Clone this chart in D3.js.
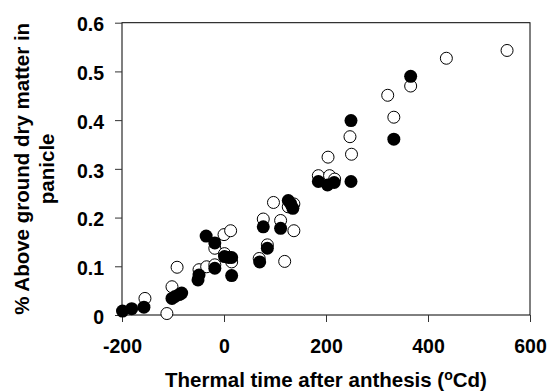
<!DOCTYPE html>
<html>
<head>
<meta charset="utf-8">
<script src="https://cdn.jsdelivr.net/npm/d3@7"></script>
<style>
  body { margin: 0; background: #fff; }
  text { font-family: "Liberation Sans", Arial, sans-serif; font-weight: bold; fill: #000; }
</style>
</head>
<body>
<div id="chart"></div>
<script>
// thermal time (°Cd) vs % above ground dry matter in panicle
const closedPts = [
  [-199, 0.008], [-181, 0.013], [-157, 0.016], [-102, 0.034], [-96, 0.038], [-88, 0.042],
  [-83, 0.045], [-51, 0.072], [-49, 0.082], [-35, 0.162], [-18, 0.148], [-18, 0.096],
  [1, 0.12], [9, 0.118], [15, 0.118], [15, 0.081], [70, 0.109], [77, 0.181], [85, 0.137],
  [111, 0.178], [126, 0.235], [131, 0.228], [135, 0.219], [185, 0.274], [203, 0.267],
  [216, 0.272], [249, 0.399], [249, 0.274], [333, 0.361], [366, 0.49]
]
const openPts = [
  [-155, 0.034], [-112, 0.003], [-92, 0.098], [-102, 0.058], [-49, 0.093], [-34, 0.099],
  [-18, 0.137], [-18, 0.103], [0, 0.165], [13, 0.173], [1, 0.126], [15, 0.109], [69, 0.116],
  [77, 0.197], [85, 0.144], [97, 0.231], [111, 0.194], [119, 0.11], [126, 0.222], [137, 0.228],
  [137, 0.173], [185, 0.286], [204, 0.324], [207, 0.286], [217, 0.279], [247, 0.366],
  [250, 0.33], [321, 0.451], [333, 0.406], [366, 0.47], [436, 0.527], [555, 0.543]
]
const xTicks = [-200, 0, 200, 400, 600]
const yTicks = [0, 0.1, 0.2, 0.3, 0.4, 0.5, 0.6]

let width = 549, height = 392
const margin = {top: 22.7, right: 19, bottom: 77, left: 122}

let x = d3.scaleLinear().domain([-200, 600]).range([margin.left, width - margin.right])
let y = d3.scaleLinear().domain([0, 0.6]).range([height - margin.bottom, margin.top])

let svg = d3.select("#chart").append("svg")
    .attr("width", width).attr("height", height)

// frame
svg.append("rect")
    .attr("x", x(-200)).attr("y", y(0.6))
    .attr("width", x(600) - x(-200)).attr("height", y(0) - y(0.6))
    .attr("fill", "none").attr("stroke", "#000").attr("stroke-width", 1)

let xAxis = svg.append("g").attr("transform", `translate(0,${y(0)})`)
    .call(d3.axisBottom(x).tickValues(xTicks).tickSize(7).tickPadding(17).tickFormat(d => String(d)))
let yAxis = svg.append("g").attr("transform", `translate(${x(-200)},0)`)
    .call(d3.axisLeft(y).tickValues(yTicks).tickSize(7).tickPadding(11).tickFormat(d => d === 0 ? "0" : d3.format(".1f")(d)))

xAxis.select(".domain").remove()
yAxis.select(".domain").remove()
svg.selectAll(".tick line").attr("stroke", "#333")
svg.selectAll(".tick text").attr("font-size", 19.5).attr("font-family", null)
yAxis.selectAll(".tick text").attr("dy", "0.42em")

// points: open first, filled on top
svg.append("g").selectAll("circle").data(openPts).enter().append("circle")
    .attr("cx", d => x(d[0])).attr("cy", d => y(d[1])).attr("r", 6)
    .attr("fill", "#fff").attr("stroke", "#000").attr("stroke-width", 1)
svg.append("g").selectAll("circle").data(closedPts).enter().append("circle")
    .attr("cx", d => x(d[0])).attr("cy", d => y(d[1])).attr("r", 6.5)
    .attr("fill", "#000")

// axis titles
let xt = svg.append("text").attr("x", (x(-200) + x(600)) / 2).attr("y", 387)
    .attr("text-anchor", "middle").attr("font-size", 20.5)
xt.append("tspan").text("Thermal time after anthesis (")
xt.append("tspan").attr("font-size", 14).attr("dy", -7.5).text("o")
xt.append("tspan").attr("dy", 7.5).text("Cd)")

let yc = (y(0) + y(0.6)) / 2
svg.append("text").attr("transform", `translate(28.5,${yc}) rotate(-90)`)
    .attr("text-anchor", "middle").attr("font-size", 20.5)
    .text("% Above ground dry matter in")
svg.append("text").attr("transform", `translate(53.5,${yc}) rotate(-90)`)
    .attr("text-anchor", "middle").attr("font-size", 20.5)
    .text("panicle")
</script>
</body>
</html>
